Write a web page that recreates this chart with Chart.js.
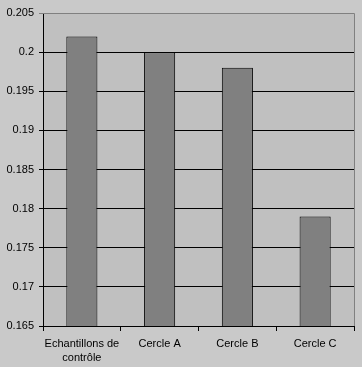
<!DOCTYPE html>
<html>
<head>
<meta charset="utf-8">
<script src="https://cdn.jsdelivr.net/npm/chart.js@4/dist/chart.umd.min.js"></script>
<style>
  html, body { margin: 0; padding: 0; background: #c9c9c9; }
  #wrap { width: 362px; height: 367px; }
</style>
</head>
<body>
<div id="wrap"><canvas id="chart" width="362" height="367"></canvas></div>
<script>
const categories = [['Echantillons de', 'contrôle'], 'Cercle A', 'Cercle B', 'Cercle C'];
const values = [0.202, 0.200, 0.198, 0.179];
const yMin = 0.165;
const yMax = 0.205;
const yStep = 0.005;

const fondGraphique = {
  id: 'fondGraphique',
  beforeDraw(chart) {
    const { ctx, chartArea: a } = chart;
    ctx.save();
    ctx.fillStyle = '#c9c9c9';
    ctx.fillRect(0, 0, chart.width, chart.height);
    ctx.fillStyle = '#c0c0c0';
    ctx.fillRect(a.left, a.top, a.right - a.left, a.bottom - a.top);
    ctx.restore();
  },
  afterDraw(chart) {
    const { ctx, chartArea: a } = chart;
    ctx.save();
    ctx.strokeStyle = '#808080';
    ctx.lineWidth = 1;
    ctx.beginPath();
    ctx.moveTo(a.left, a.top + 0.5);
    ctx.lineTo(a.right + 0.5, a.top + 0.5);
    ctx.lineTo(a.right + 0.5, a.bottom);
    ctx.stroke();
    ctx.restore();
  },
};

new Chart(document.getElementById('chart'), {
  type: 'bar',
  data: {
    labels: categories,
    datasets: [{
      data: values,
      backgroundColor: '#808080',
      borderColor: '#000000',
      borderWidth: 1,
      categoryPercentage: 1,
      barPercentage: 0.4,
    }],
  },
  options: {
    responsive: false,
    animation: false,
    devicePixelRatio: 1,
    layout: { padding: { top: 13, right: 8, left: 0, bottom: 0 } },
    font: { family: 'Arial, "Liberation Sans", sans-serif', size: 11 },
    scales: {
      x: {
        grid: { drawOnChartArea: false, drawTicks: true, tickLength: 5, color: '#000', offset: true },
        border: { color: '#000', width: 1 },
        ticks: {
          color: '#000',
          padding: 5,
          maxRotation: 0,
          autoSkip: false,
          font: { family: 'Arial, "Liberation Sans", sans-serif', size: 11, lineHeight: 1.36 },
        },
        afterFit: (s) => { s.height = 41; },
      },
      y: {
        min: yMin,
        max: yMax,
        grid: {
          color: (ctx) => (ctx.tick && Math.abs(ctx.tick.value - yMax) < 1e-9 ? '#808080' : '#000'),
          tickLength: 4,
        },
        border: { color: '#000', width: 1 },
        ticks: {
          stepSize: yStep,
          color: '#000',
          padding: 5,
          font: { family: 'Arial, "Liberation Sans", sans-serif', size: 11 },
          callback: (v) => String(+v.toFixed(3)),
        },
        afterFit: (s) => { s.width = 43; },
      },
    },
    plugins: {
      legend: { display: false },
      tooltip: { enabled: false },
    },
  },
  plugins: [fondGraphique],
});
</script>
</body>
</html>
